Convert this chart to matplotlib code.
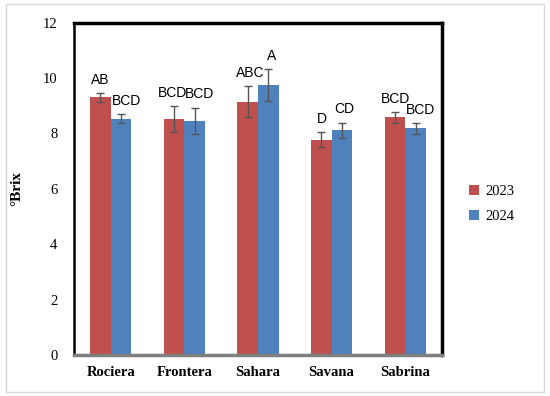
import matplotlib
matplotlib.use("Agg")
import matplotlib.pyplot as plt
import numpy as np
from matplotlib.patches import Rectangle

categories = ["Rociera", "Frontera", "Sahara", "Savana", "Sabrina"]
vals_2023 = [9.30, 8.52, 9.15, 7.78, 8.58]
err_2023 = [0.15, 0.47, 0.56, 0.28, 0.20]
vals_2024 = [8.54, 8.46, 9.75, 8.11, 8.18]
err_2024 = [0.15, 0.47, 0.57, 0.28, 0.20]
letters_2023 = ["AB", "BCD", "ABC", "D", "BCD"]
letters_2024 = ["BCD", "BCD", "A", "CD", "BCD"]
yticks = [0, 2, 4, 6, 8, 10, 12]

# small horizontal nudges (points) of the letter labels, as in the reference
nudge_2023 = [0, -1, 1.8, 0.7, 0.7]
nudge_2024 = [3.6, 3.6, 2.7, 1.7, 3.8]

fig = plt.figure(figsize=(5.5, 3.96), dpi=100)
ax = fig.add_axes([74/550, 1-355/396, (442-74)/550, (355-22.7)/396])

x = np.arange(len(categories))
w = 0.28
c23 = "#C0504D"
c24 = "#4F81BD"
ax.bar(x - w/2, vals_2023, w, color=c23, label="2023", zorder=2)
ax.bar(x + w/2, vals_2024, w, color=c24, label="2024", zorder=2)
ax.errorbar(x - w/2, vals_2023, yerr=err_2023, fmt="none", ecolor="#555555",
            elinewidth=1, capsize=3, capthick=1, zorder=3)
ax.errorbar(x + w/2, vals_2024, yerr=err_2024, fmt="none", ecolor="#555555",
            elinewidth=1, capsize=3, capthick=1, zorder=3)

for xi, v, e, t, n in zip(x - w/2, vals_2023, err_2023, letters_2023, nudge_2023):
    ax.annotate(t, (xi, v + e), xytext=(n, 4.5), textcoords="offset points",
                ha="center", va="bottom", fontsize=10, family="Liberation Sans")
for xi, v, e, t, n in zip(x + w/2, vals_2024, err_2024, letters_2024, nudge_2024):
    ax.annotate(t, (xi, v + e), xytext=(n, 4.5), textcoords="offset points",
                ha="center", va="bottom", fontsize=10, family="Liberation Sans")

ax.set_xlim(-0.5, len(categories) - 0.5)
ax.set_ylim(0, 12)
ax.set_yticks(yticks)
ax.set_yticklabels([str(t) for t in yticks], family="Liberation Serif", fontsize=10.5)
ax.set_xticks(x)
ax.set_xticklabels(categories, family="Liberation Serif", fontweight="bold", fontsize=10.5)
ax.tick_params(axis="both", length=0)
ax.tick_params(axis="y", pad=12)
ax.tick_params(axis="x", pad=8)

ax.set_ylabel("°Brix", family="Liberation Serif", fontweight="bold", fontsize=11, labelpad=14)

ax.spines["left"].set_linewidth(1.8)
ax.spines["left"].set_color("black")
for s in ["top", "right"]:
    ax.spines[s].set_linewidth(2.5)
    ax.spines[s].set_color("black")
ax.spines["bottom"].set_linewidth(2.5)
ax.spines["bottom"].set_color("#7f7f7f")

leg = fig.legend(loc="upper left", bbox_to_anchor=(456/550, 1-172/396), frameon=False,
                 prop={"family": "Liberation Serif", "size": 10.5},
                 handlelength=0.7, handleheight=0.7, handletextpad=0.4, labelspacing=0.8)

fig.patches.append(Rectangle((6/550, 4/396), 538/550, 388/396, transform=fig.transFigure,
                             fill=False, edgecolor="#d9d9d9", linewidth=1))

fig.savefig("out.png", dpi=100)
